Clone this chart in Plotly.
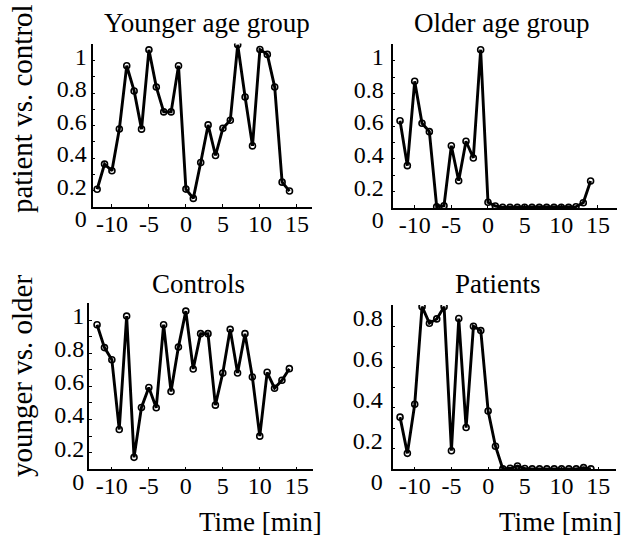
import plotly.graph_objects as go

W, H = 629, 537

minutes = list(range(-12, 15))

younger_pc = [0.109, 0.264, 0.223, 0.480, 0.869, 0.714, 0.479, 0.967, 0.738, 0.585, 0.585, 0.869,
              0.110, 0.053, 0.274, 0.505, 0.317, 0.485, 0.534, 0.998, 0.677, 0.376, 0.969, 0.939,
              0.738, 0.153, 0.098]
older_pc = [0.534, 0.259, 0.775, 0.518, 0.467, 0.008, 0.014, 0.381, 0.167, 0.408, 0.306, 0.968,
            0.035, 0.012, 0.004, 0.004, 0.004, 0.004, 0.004, 0.004, 0.004, 0.004, 0.004, 0.004,
            0.008, 0.032, 0.165]
controls_yo = [0.872, 0.734, 0.661, 0.240, 0.924, 0.072, 0.373, 0.493, 0.371, 0.872, 0.469, 0.737,
               0.954, 0.605, 0.818, 0.818, 0.387, 0.581, 0.844, 0.581, 0.818, 0.557, 0.200, 0.585,
               0.489, 0.537, 0.607]
patients_yo = [0.255, 0.078, 0.318, 0.795, 0.714, 0.735, 0.795, 0.091, 0.737, 0.204, 0.699, 0.678,
               0.285, 0.113, 0.002, 0.005, 0.016, 0.004, 0.002, 0.002, 0.002, 0.002, 0.002, 0.002,
               0.002, 0.008, 0.002]

panel_titles = ["Younger age group", "Older age group", "Controls", "Patients"]
row_labels = ["patient vs. control", "younger vs. older"]
x_label = "Time [min]"

x_tick_vals = [-10, -5, 0, 5, 10, 15]
x_tick_text = ["-10", "-5", "0", "5", "10", "15"]
y_tick_step = 0.2
y_minor_step = 0.1

FONT = "Liberation Serif"
TICK_SIZE = 24
TITLE_SIZE = 27
LABEL_DROP = 12  # tick labels sit a little below their ticks in the original


def px_x(p):
    return p / W


def px_y(p):
    return 1 - p / H


# panel geometry in pixels: (left, right, top, bottom), x range, y range
panels = [
    dict(series=younger_pc, box=(92.7, 311.7, 43.5, 207.0), xr=[-12.6, 17.0], yr=[0, 1.006], so=6),
    dict(series=older_pc, box=(392.7, 617.0, 43.5, 208.0), xr=[-13.0, 17.6], yr=[0, 1.006], so=9),
    dict(series=controls_yo, box=(89.3, 313.0, 303.0, 469.3), xr=[-13.05, 17.2], yr=[0, 1.003], so=5),
    dict(series=patients_yo, box=(392.7, 615.5, 305.0, 469.3), xr=[-13.0, 17.35], yr=[0, 0.803], so=10),
]

fig = go.Figure()
layout = dict(
    template="none",
    width=W, height=H,
    margin=dict(l=0, r=0, t=0, b=0, autoexpand=False),
    paper_bgcolor="white", plot_bgcolor="rgba(0,0,0,0)",
    showlegend=False,
    font=dict(family=FONT, size=TICK_SIZE, color="black"),
)

n = len(panels)
for i, p in enumerate(panels, start=1):
    sx = "" if i == 1 else str(i)
    sl = str(i + n)
    # empty trace that hosts the tick-label axis (added first so it sits underneath)
    fig.add_trace(go.Scatter(x=[None], y=[None], xaxis="x" + sx, yaxis="y" + sl,
                             mode="lines", hoverinfo="skip"))
    fig.add_trace(go.Scatter(
        x=minutes, y=p["series"], xaxis="x" + sx, yaxis="y" + sx,
        mode="lines+markers",
        line=dict(color="black", width=2.9),
        marker=dict(symbol="circle-open", size=6, color="black", line=dict(width=1.6, color="black")),
        hoverinfo="x+y",
    ))
    l, r, t, b = p["box"]
    layout["xaxis" + sx] = dict(
        domain=[px_x(l), px_x(r)], range=p["xr"], anchor="y" + sx,
        automargin=False,
        showline=True, linecolor="black", linewidth=1.5, mirror=False,
        showgrid=False, zeroline=False,
        ticks="inside", ticklen=3, tickwidth=1, tickcolor="black",
        tickvals=x_tick_vals, ticktext=x_tick_text,
        tickfont=dict(family=FONT, size=TICK_SIZE, color="black"),
        ticklabelstandoff=-6,
    )
    layout["yaxis" + sx] = dict(
        domain=[px_y(b), px_y(t)], range=p["yr"], anchor="x" + sx,
        automargin=False,
        showline=True, linecolor="black", linewidth=1.5, mirror=False,
        showgrid=False, zeroline=False,
        ticks="inside", ticklen=3, tickwidth=1, tickcolor="black",
        tickmode="linear", tick0=0, dtick=y_tick_step,
        minor=dict(dtick=y_minor_step, tick0=0, ticks="inside", ticklen=3, tickwidth=1,
                   tickcolor="black"),
        showticklabels=False,
    )
    layout["yaxis" + sl] = dict(
        domain=[px_y(b + LABEL_DROP), px_y(t + LABEL_DROP)], range=p["yr"],
        anchor="free", position=px_x(l), side="left",
        automargin=False,
        showline=False, showgrid=False, zeroline=False, ticks="",
        tickmode="linear", tick0=0, dtick=y_tick_step,
        tickfont=dict(family=FONT, size=TICK_SIZE, color="black"),
        ticklabelstandoff=p["so"],
    )

annotations = []
title_pos = [(207, 23), (501, 23), (198, 284), (498, 284)]
for txt, (cx, cy) in zip(panel_titles, title_pos):
    annotations.append(dict(text=txt, x=px_x(cx), y=px_y(cy), xref="paper", yref="paper",
                            xanchor="center", yanchor="middle", showarrow=False,
                            font=dict(family=FONT, size=TITLE_SIZE, color="black")))
for txt, cy in zip(row_labels, [109, 376]):
    annotations.append(dict(text=txt, x=px_x(22), y=px_y(cy), xref="paper", yref="paper",
                            xanchor="center", yanchor="middle", textangle=-90, showarrow=False,
                            font=dict(family=FONT, size=29, color="black")))
for cx in [260, 560]:
    annotations.append(dict(text=x_label, x=px_x(cx), y=px_y(522), xref="paper", yref="paper",
                            xanchor="center", yanchor="middle", showarrow=False,
                            font=dict(family=FONT, size=TITLE_SIZE, color="black")))
layout["annotations"] = annotations

fig.update_layout(**layout)
fig.write_html("out.html", config={"displayModeBar": False},
               post_script="document.body.style.margin='0';document.body.style.padding='0';")
